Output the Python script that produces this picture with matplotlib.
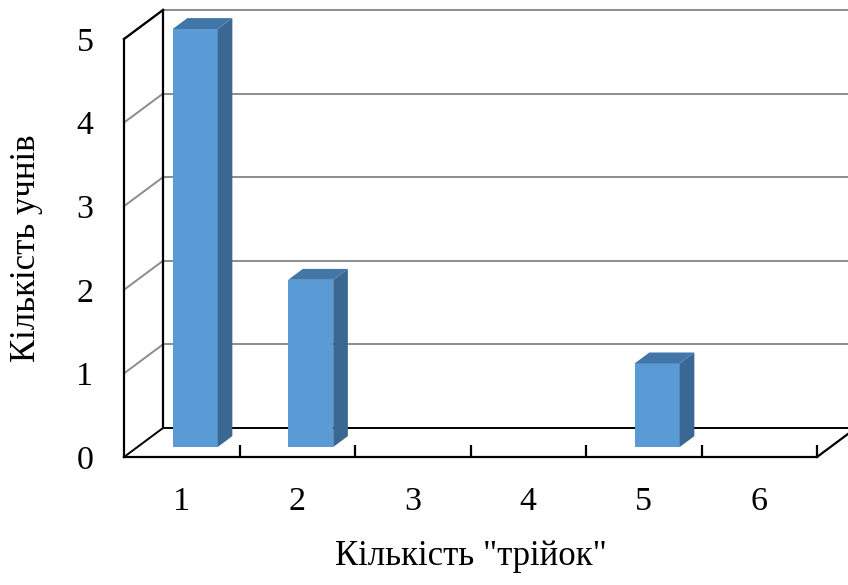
import matplotlib.pyplot as plt
from matplotlib.patches import Polygon

# number of "C" grades vs number of pupils
categories = [1, 2, 3, 4, 5, 6]
pupils = [5, 2, 0, 0, 1, 0]
yticks = [0, 1, 2, 3, 4, 5]

plt.rcParams['font.family'] = ['Liberation Serif', 'DejaVu Serif']

fig = plt.figure(figsize=(8.48, 5.85), dpi=100)
ax = fig.add_axes([124 / 848, 128 / 585, 693 / 848, 418 / 585])
ax.set_xlim(0.5, 6.5)
ax.set_ylim(0, 5)

# oblique depth offset of the back wall, in data units
dx, dy = 0.3377, 0.347
x0, x1 = 0.5, 6.5

# back wall grid and floor
for v in yticks:
    col = 'black' if v == 0 else '#8c8c8c'
    ax.plot([x0, x0 + dx], [v, v + dy], color=col, lw=1.4, clip_on=False, zorder=1)
    ax.plot([x0 + dx, x1 + dx], [v + dy, v + dy], color=col, lw=1.4, clip_on=False, zorder=1)
ax.plot([x0 + dx, x0 + dx], [dy, 5 + dy], color='black', lw=1.6, clip_on=False, zorder=1)
ax.plot([x0, x0 + dx], [5, 5 + dy], color='black', lw=1.6, clip_on=False, zorder=1)
ax.plot([x1, x1 + dx], [0, dy], color='black', lw=1.6, clip_on=False, zorder=1)

# 3d bars: front, side and top faces
front_c, side_c, top_c = '#5b9bd5', '#3a6892', '#4276a8'
bw = 0.39
f0, f1 = 0.345, 0.72
for c, n in zip(categories, pupils):
    if n == 0:
        continue
    left = c + f0 * dx - bw / 2
    right = left + bw
    b = f0 * dy
    ddx, ddy = (f1 - f0) * dx, (f1 - f0) * dy
    ax.add_patch(Polygon([(left, b), (right, b), (right, n + b), (left, n + b)],
                         closed=True, fc=front_c, ec='none', clip_on=False, zorder=3))
    ax.add_patch(Polygon([(right, b), (right + ddx, b + ddy), (right + ddx, n + b + ddy), (right, n + b)],
                         closed=True, fc=side_c, ec='none', clip_on=False, zorder=3))
    ax.add_patch(Polygon([(left, n + b), (right, n + b), (right + ddx, n + b + ddy), (left + ddx, n + b + ddy)],
                         closed=True, fc=top_c, ec='none', clip_on=False, zorder=3))

for side in ['top', 'right']:
    ax.spines[side].set_visible(False)
for side in ['left', 'bottom']:
    ax.spines[side].set_linewidth(1.6)
    ax.spines[side].set_zorder(4)

ax.set_yticks(yticks)
ax.set_yticklabels([str(v) for v in yticks])
ax.tick_params(axis='y', length=0, pad=22, labelsize=24.5)

ax.set_xticks([c + 0.5 for c in categories])
ax.set_xticklabels([])
ax.tick_params(axis='x', which='major', direction='in', length=9, width=1.6)
ax.set_xticks(categories, minor=True)
ax.set_xticklabels([str(c) for c in categories], minor=True)
ax.tick_params(axis='x', which='minor', length=0, pad=21, labelsize=24.5)

ax.set_xlabel('Кількість "трійок"', fontsize=25, labelpad=17)
ax.set_ylabel('Кількість учнів', fontsize=25, labelpad=24)

fig.savefig('out.png', dpi=100)
